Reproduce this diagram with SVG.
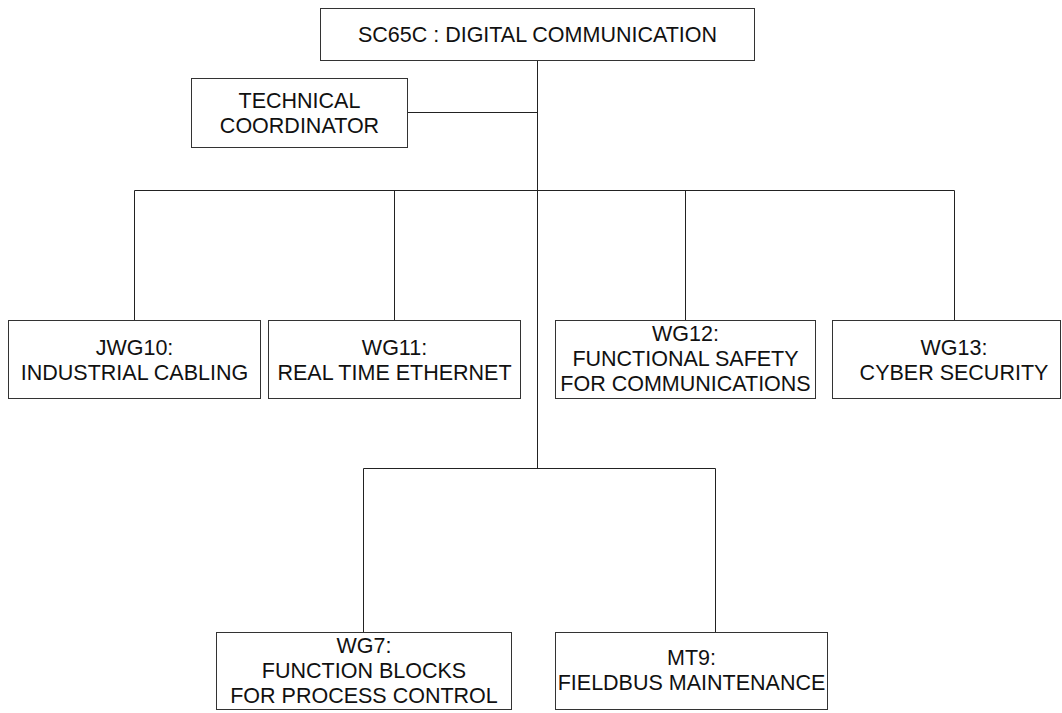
<svg xmlns="http://www.w3.org/2000/svg" width="1062" height="713" viewBox="0 0 1062 713">
<style>
.box{fill:#fff;stroke:#333;stroke-width:1}
.lbl{font-family:"Liberation Sans",Arial,sans-serif;font-size:21.5px;fill:#111;text-anchor:middle}
.conn{fill:none;stroke:#222;stroke-width:1}
</style>
<rect width="1062" height="713" fill="#fff"/>
<g id="connectors" class="conn">
<path d="M537.5 60.5 V468.5"/>
<path d="M407.5 112.5 H537.5"/>
<path d="M134.5 320.5 V190.5 H954.5 V320.5"/>
<path d="M394.5 190.5 V320.5"/>
<path d="M685.5 190.5 V320.5"/>
<path d="M363.5 632.5 V468.5 H715.5 V632.5"/>
</g>
<g id="sc65c">
<rect class="box" x="320.5" y="8.5" width="434" height="52"/>
<text class="lbl" x="537.5" y="41.5">SC65C : DIGITAL COMMUNICATION</text>
</g>
<g id="tech-coordinator">
<rect class="box" x="191.5" y="78.5" width="216" height="69"/>
<text class="lbl" x="299.5" y="107.5">TECHNICAL</text>
<text class="lbl" x="299.5" y="132.5">COORDINATOR</text>
</g>
<g id="jwg10">
<rect class="box" x="8.5" y="320.5" width="252" height="78"/>
<text class="lbl" x="134.5" y="355">JWG10:</text>
<text class="lbl" x="134.5" y="380">INDUSTRIAL CABLING</text>
</g>
<g id="wg11">
<rect class="box" x="268.5" y="320.5" width="252" height="78"/>
<text class="lbl" x="394.5" y="355">WG11:</text>
<text class="lbl" x="394.5" y="380">REAL TIME ETHERNET</text>
</g>
<g id="wg12">
<rect class="box" x="555.5" y="320.5" width="260" height="78"/>
<text class="lbl" x="685.5" y="341">WG12:</text>
<text class="lbl" x="685.5" y="366">FUNCTIONAL SAFETY</text>
<text class="lbl" x="685.5" y="391">FOR COMMUNICATIONS</text>
</g>
<g id="wg13">
<rect class="box" x="832.5" y="320.5" width="228" height="78"/>
<text class="lbl" x="954" y="355">WG13:</text>
<text class="lbl" x="954" y="380">CYBER SECURITY</text>
</g>
<g id="wg7">
<rect class="box" x="216.5" y="632.5" width="295" height="77"/>
<text class="lbl" x="364" y="653">WG7:</text>
<text class="lbl" x="364" y="678">FUNCTION BLOCKS</text>
<text class="lbl" x="364" y="703">FOR PROCESS CONTROL</text>
</g>
<g id="mt9">
<rect class="box" x="555.5" y="632.5" width="272" height="77"/>
<text class="lbl" x="691.5" y="665">MT9:</text>
<text class="lbl" x="691.5" y="690">FIELDBUS MAINTENANCE</text>
</g>
</svg>
